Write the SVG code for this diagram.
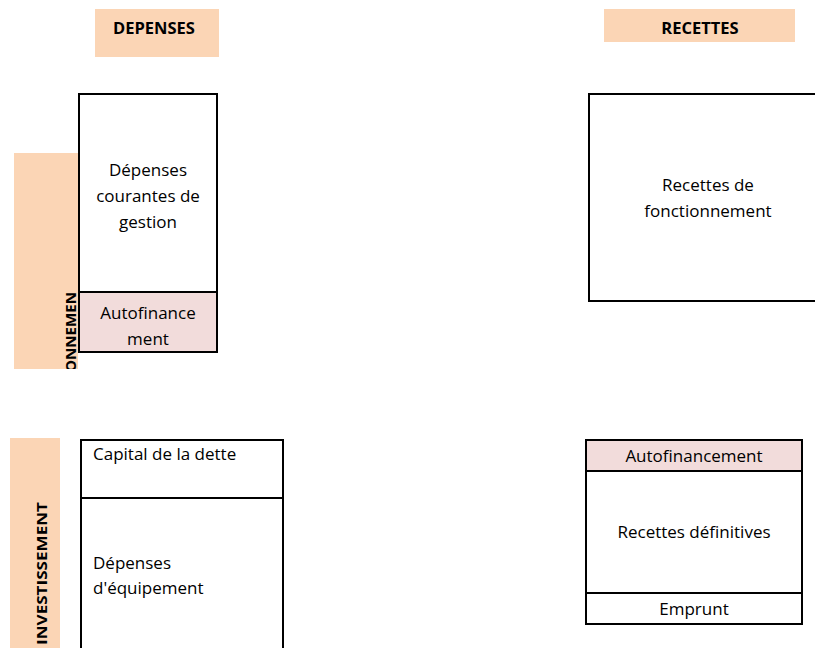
<svg xmlns="http://www.w3.org/2000/svg" width="815" height="648" viewBox="0 0 815 648">
<style>
.box{fill:#fff;stroke:#000;stroke-width:2}
.pink{fill:#F2DCDB;stroke:#000;stroke-width:2}
.band{fill:#FBD5B5}
.t{font-family:"Open Sans","Liberation Sans",sans-serif;font-size:17px;fill:#000}
.c{text-anchor:middle}
.h{font-family:"Open Sans","Liberation Sans",sans-serif;font-size:16.5px;font-weight:bold;fill:#000;text-anchor:middle}
.v{font-family:"Open Sans","Liberation Sans",sans-serif;font-size:15px;font-weight:bold;fill:#000}
</style>
<defs>
<clipPath id="clipF"><rect x="14" y="153" width="64" height="216"/></clipPath>
<clipPath id="clipI"><rect x="10" y="438" width="50" height="210"/></clipPath>
</defs>
<g id="hdr-depenses">
<rect class="band" x="95" y="9" width="124" height="48"/>
<text class="h" x="154" y="34">DEPENSES</text>
</g>
<g id="hdr-recettes">
<rect class="band" x="604" y="9" width="191" height="33"/>
<text class="h" x="700" y="34">RECETTES</text>
</g>
<g id="lbl-fonctionnement">
<rect class="band" x="14" y="153" width="64" height="216"/>
<g clip-path="url(#clipF)">
<text class="v" transform="translate(76,292) rotate(-90)" text-anchor="end" textLength="80" lengthAdjust="spacingAndGlyphs">ONNEMEN</text>
</g>
</g>
<g id="lbl-investissement">
<rect class="band" x="10" y="438" width="50" height="210"/>
<g clip-path="url(#clipI)">
<text class="v" transform="translate(47,502) rotate(-90)" text-anchor="end" textLength="143" lengthAdjust="spacingAndGlyphs">INVESTISSEMENT</text>
</g>
</g>
<g id="dep-courantes">
<rect class="box" x="79" y="94" width="138" height="198"/>
<text class="t c" x="148" y="176">Dépenses</text>
<text class="t c" x="148" y="202">courantes de</text>
<text class="t c" x="148" y="228">gestion</text>
</g>
<g id="dep-autofinancement">
<rect class="pink" x="79" y="292" width="138" height="60"/>
<text class="t c" x="148" y="319">Autofinance</text>
<text class="t c" x="148" y="345">ment</text>
</g>
<g id="rec-fonctionnement">
<rect class="box" x="589" y="94" width="228" height="207"/>
<text class="t c" x="708" y="191">Recettes de</text>
<text class="t c" x="708" y="217">fonctionnement</text>
</g>
<g id="dep-capital">
<rect class="box" x="81" y="440" width="202" height="58"/>
<text class="t" x="93" y="460">Capital de la dette</text>
</g>
<g id="dep-equipement">
<rect class="box" x="81" y="498" width="202" height="160"/>
<text class="t" x="93" y="569">Dépenses</text>
<text class="t" x="93" y="594">d'équipement</text>
</g>
<g id="rec-autofinancement">
<rect class="pink" x="586" y="440" width="216" height="31"/>
<text class="t c" x="694" y="462">Autofinancement</text>
</g>
<g id="rec-definitives">
<rect class="box" x="586" y="471" width="216" height="122"/>
<text class="t c" x="694" y="538">Recettes définitives</text>
</g>
<g id="rec-emprunt">
<rect class="box" x="586" y="593" width="216" height="31"/>
<text class="t c" x="694" y="615">Emprunt</text>
</g>
<g id="connectors"></g>
</svg>
